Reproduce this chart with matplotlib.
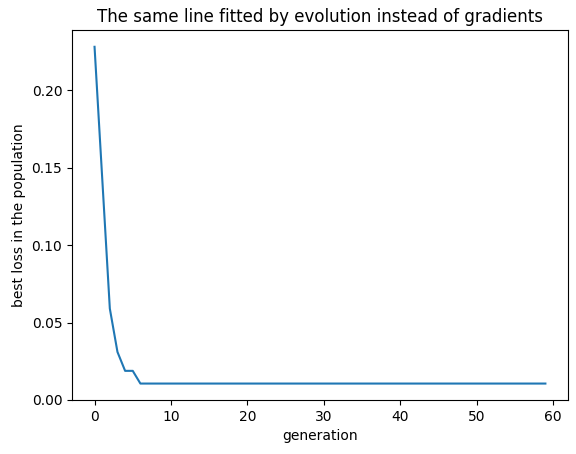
import matplotlib
matplotlib.use('Agg')
import matplotlib.pyplot as plt

generations = list(range(60))
best_loss = [0.228, 0.1435, 0.059, 0.031, 0.0188, 0.0188] + [0.0106] * 54

fig, ax = plt.subplots(figsize=(5.76, 4.54), dpi=100)
fig.subplots_adjust(left=0.125, right=0.986, top=0.934, bottom=0.119)
ax.plot(generations, best_loss)
ax.set_xlabel('generation')
ax.set_ylabel('best loss in the population')
ax.set_title('The same line fitted by evolution instead of gradients')
ax.set_ylim(bottom=0)
fig.savefig('out.png')
